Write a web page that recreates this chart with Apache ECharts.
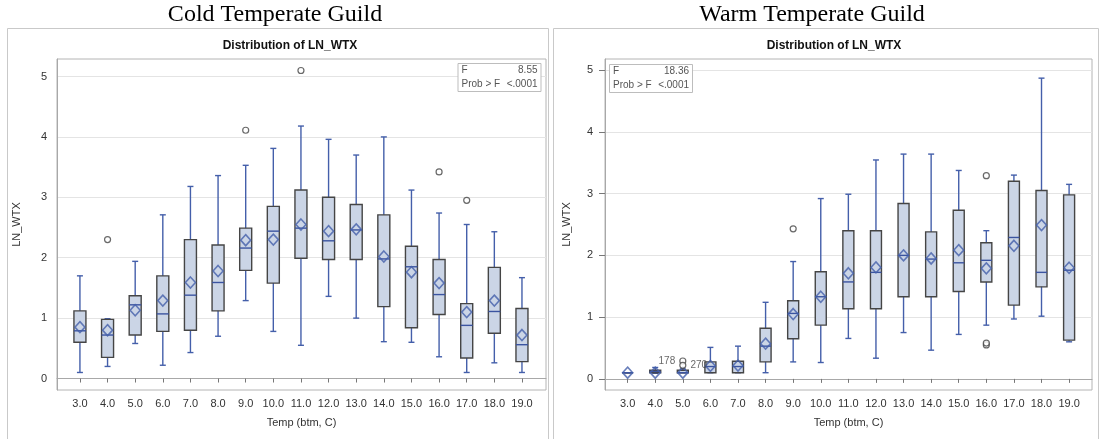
<!DOCTYPE html>
<html><head><meta charset="utf-8">
<script src="https://cdn.jsdelivr.net/npm/echarts@6/dist/echarts.min.js"></script>
<style>html,body{margin:0;padding:0;background:#fff}#c{width:1100px;height:439px}</style>
</head><body><div id="c"></div>
<script>
// ---- data ----
const temps = [3,4,5,6,7,8,9,10,11,12,13,14,15,16,17,18,19];
const tickLabels = ['3.0','4.0','5.0','6.0','7.0','8.0','9.0','10.0','11.0','12.0','13.0','14.0','15.0','16.0','17.0','18.0','19.0'];
const yTicks = [0,1,2,3,4,5];

// Cold Temperate Guild
const coldMin    = [0.10,0.20,0.58,0.22,0.43,0.70,1.29,0.78,0.55,1.36,1.00,0.61,0.60,0.36,0.10,0.26,0.10];
const coldQ1     = [0.60,0.35,0.72,0.78,0.80,1.12,1.79,1.58,1.99,1.97,1.97,1.19,0.84,1.06,0.34,0.75,0.28];
const coldMedian = [0.79,0.72,1.22,1.07,1.38,1.59,2.16,2.44,2.49,2.28,2.46,1.98,1.85,1.39,0.88,1.11,0.56];
const coldQ3     = [1.12,0.98,1.37,1.70,2.30,2.21,2.49,2.85,3.12,3.00,2.88,2.71,2.19,1.97,1.24,1.84,1.16];
const coldMax    = [1.70,0.99,1.94,2.71,3.18,3.36,3.53,3.81,4.18,3.96,3.70,4.00,3.12,2.74,2.55,2.43,1.67];
const coldMean   = [0.85,0.80,1.13,1.29,1.59,1.78,2.29,2.30,2.55,2.44,2.47,2.02,1.76,1.58,1.10,1.29,0.72];
const coldOutTemp = [4,9,11,16,17];
const coldOutVal  = [2.30,4.11,5.10,3.42,2.95];
const coldF = '8.55';
const coldP = '<.0001';

// Warm Temperate Guild
const warmMin    = [0.10,0.09,0.10,0.10,0.10,0.10,0.275,0.265,0.655,0.335,0.75,0.465,0.72,0.87,0.97,1.015,0.60];
const warmQ1     = [0.10,0.10,0.10,0.10,0.10,0.275,0.65,0.87,1.135,1.135,1.33,1.33,1.415,1.57,1.195,1.49,0.627];
const warmMedian = [0.10,0.12,0.10,0.20,0.20,0.53,1.06,1.33,1.57,1.725,2.00,1.94,1.88,1.92,2.29,1.725,1.76];
const warmQ3     = [0.10,0.14,0.14,0.275,0.285,0.82,1.265,1.735,2.40,2.40,2.84,2.38,2.73,2.205,3.20,3.05,2.98];
const warmMax    = [0.10,0.185,0.16,0.51,0.53,1.24,1.90,2.92,2.99,3.545,3.64,3.64,3.375,2.40,3.30,4.87,3.15];
const warmMean   = [0.10,0.10,0.10,0.21,0.215,0.57,1.05,1.33,1.71,1.805,2.00,1.95,2.085,1.79,2.155,2.49,1.80];
const warmOutTemp  = [5,5,9,16,16,16];
const warmOutVal   = [0.29,0.22,2.43,3.29,0.55,0.58];
const warmOutLabel = ['178','270','','','',''];
const warmOutLabelSide = ['left','right','','','',''];
const warmF = '18.36';
const warmP = '<.0001';

// ---- styles ----
const FILL = '#cbd5e6', EDGE = '#454545', BLUE = '#445faa', MED = '#3b54a0';
const FONT = '"Liberation Sans", Arial, sans-serif';

function boxRows(mn,q1,md,q3,mx){ return temps.map((t,i)=>[t,mn[i],q1[i],md[i],q3[i],mx[i]]); }
function renderBox(halfW, capW){
  return function(params, api){
    const x = api.value(0);
    const pMin = api.coord([x, api.value(1)]);
    const pQ1  = api.coord([x, api.value(2)]);
    const pMd  = api.coord([x, api.value(3)]);
    const pQ3  = api.coord([x, api.value(4)]);
    const pMax = api.coord([x, api.value(5)]);
    const cx = pMd[0];
    return {type:'group', children:[
      {type:'line', shape:{x1:cx,y1:pMin[1],x2:cx,y2:pMax[1]}, style:{stroke:BLUE,lineWidth:1.4}},
      {type:'line', shape:{x1:cx-capW,y1:pMin[1],x2:cx+capW,y2:pMin[1]}, style:{stroke:BLUE,lineWidth:1.4}},
      {type:'line', shape:{x1:cx-capW,y1:pMax[1],x2:cx+capW,y2:pMax[1]}, style:{stroke:BLUE,lineWidth:1.4}},
      {type:'rect', shape:{x:cx-halfW,y:pQ3[1],width:2*halfW,height:pQ1[1]-pQ3[1]}, style:{fill:FILL,stroke:EDGE,lineWidth:1.4}},
      {type:'line', shape:{x1:cx-halfW,y1:pMd[1],x2:cx+halfW,y2:pMd[1]}, style:{stroke:MED,lineWidth:1.4}}
    ]};
  };
}

function xAxisCfg(gi, min, max){
  return {gridIndex:gi, type:'value', min:min, max:max,
    name:'Temp (btm, C)', nameLocation:'middle', nameGap:27,
    nameTextStyle:{fontFamily:FONT,fontSize:11,color:'#333'},
    axisLine:{show:true,lineStyle:{color:'#a8a8a8'}},
    axisTick:{show:true,length:4,inside:false,customValues:temps,lineStyle:{color:'#777'}},
    axisLabel:{customValues:temps,margin:8,fontFamily:FONT,fontSize:11,color:'#333',
      formatter:(v)=>tickLabels[temps.indexOf(Math.round(v))]},
    splitLine:{show:false}};
}
function yAxisCfg(gi, min, max, showTick, gap, margin){
  return {gridIndex:gi, type:'value', min:min, max:max,
    name:'LN_WTX', nameLocation:'middle', nameGap:gap, nameRotate:90,
    nameTextStyle:{fontFamily:FONT,fontSize:11,color:'#333'},
    axisLine:{show:true,lineStyle:{color:'#a8a8a8'}},
    axisTick:{show:showTick,length:6,customValues:yTicks,lineStyle:{color:'#777'}},
    axisLabel:{customValues:yTicks,margin:margin,fontFamily:FONT,fontSize:11,color:'#333',
      formatter:(v)=>String(Math.round(v))},
    splitLine:{show:true,lineStyle:{color:'#e4e4e4'}}};
}

function insetBox(x, y, fVal, pVal){
  return [
    {type:'rect', z:50, shape:{x:x+0.5,y:y+0.5,width:83,height:28}, style:{fill:'#fff',stroke:'#bdbdbd',lineWidth:1}},
    {type:'text', z:51, x:x+4, y:y+7.5, style:{text:'F', font:'10px '+FONT, fill:'#555', verticalAlign:'middle'}},
    {type:'text', z:51, x:x+80, y:y+7.5, style:{text:fVal, font:'10px '+FONT, fill:'#555', align:'right', verticalAlign:'middle'}},
    {type:'text', z:51, x:x+4, y:y+21, style:{text:'Prob > F', font:'10px '+FONT, fill:'#555', verticalAlign:'middle'}},
    {type:'text', z:51, x:x+80, y:y+21, style:{text:pVal, font:'10px '+FONT, fill:'#555', align:'right', verticalAlign:'middle'}}
  ];
}

const chart = echarts.init(document.getElementById('c'), null, {renderer:'canvas'});
chart.setOption({
  animation:false,
  backgroundColor:'#fff',
  graphic:[
    {type:'rect', shape:{x:7.5,y:28.5,width:541,height:420}, style:{fill:'none',stroke:'#c9c9c9',lineWidth:1}},
    {type:'rect', shape:{x:553.5,y:28.5,width:545,height:420}, style:{fill:'none',stroke:'#c9c9c9',lineWidth:1}},
    {type:'text', x:275, y:15, style:{text:'Cold Temperate Guild', font:'24px "Liberation Serif", "Times New Roman", serif', fill:'#000', align:'center', verticalAlign:'middle'}},
    {type:'text', x:812, y:15, style:{text:'Warm Temperate Guild', font:'24px "Liberation Serif", "Times New Roman", serif', fill:'#000', align:'center', verticalAlign:'middle'}},
    {type:'text', x:290, y:45.5, style:{text:'Distribution of LN_WTX', font:'bold 12px '+FONT, fill:'#111', align:'center', verticalAlign:'middle'}},
    {type:'text', x:834, y:45.5, style:{text:'Distribution of LN_WTX', font:'bold 12px '+FONT, fill:'#111', align:'center', verticalAlign:'middle'}},
    ...insetBox(457.5, 63, coldF, coldP),
    ...insetBox(609, 64, warmF, warmP)
  ],
  grid:[
    {left:57, top:59, width:489, height:331, show:true, borderColor:'#b4b4b4', borderWidth:1, backgroundColor:'transparent'},
    {left:605, top:59, width:487, height:331, show:true, borderColor:'#b4b4b4', borderWidth:1, backgroundColor:'transparent'}
  ],
  xAxis:[xAxisCfg(0, 2.17, 19.87), xAxisCfg(1, 2.18, 19.83)],
  yAxis:[yAxisCfg(0, -0.19, 5.29, false, 35, 10), yAxisCfg(1, -0.18, 5.18, true, 33, 12)],
  series:[
    {type:'custom', xAxisIndex:0, yAxisIndex:0, renderItem:renderBox(6,3), data:boxRows(coldMin,coldQ1,coldMedian,coldQ3,coldMax), encode:{x:0,y:[1,2,3,4,5]}, z:2},
    {type:'scatter', xAxisIndex:0, yAxisIndex:0, data:temps.map((t,i)=>[t,coldMean[i]]), symbol:'diamond', symbolSize:[10,11],
      itemStyle:{color:'rgba(255,255,255,0)',borderColor:BLUE,borderWidth:1.6}, z:5},
    {type:'scatter', xAxisIndex:0, yAxisIndex:0, data:coldOutTemp.map((t,i)=>[t,coldOutVal[i]]), symbol:'circle', symbolSize:6,
      itemStyle:{color:'#fff',borderColor:'#444',borderWidth:1.2}, z:5},
    {type:'custom', xAxisIndex:1, yAxisIndex:1, renderItem:renderBox(5.5,3), data:boxRows(warmMin,warmQ1,warmMedian,warmQ3,warmMax), encode:{x:0,y:[1,2,3,4,5]}, z:2},
    {type:'scatter', xAxisIndex:1, yAxisIndex:1, data:temps.map((t,i)=>[t,warmMean[i]]), symbol:'diamond', symbolSize:[10,11],
      itemStyle:{color:'rgba(255,255,255,0)',borderColor:BLUE,borderWidth:1.6}, z:5},
    {type:'scatter', xAxisIndex:1, yAxisIndex:1,
      data:warmOutTemp.map((t,i)=>({value:[t,warmOutVal[i]],
        label:{show:warmOutLabel[i]!=='', formatter:warmOutLabel[i], position:warmOutLabelSide[i]||'left', distance:4,
          fontFamily:FONT, fontSize:10, color:'#444'}})),
      symbol:'circle', symbolSize:6,
      itemStyle:{color:'#fff',borderColor:'#444',borderWidth:1.2}, z:5}
  ]
});
</script></body></html>
